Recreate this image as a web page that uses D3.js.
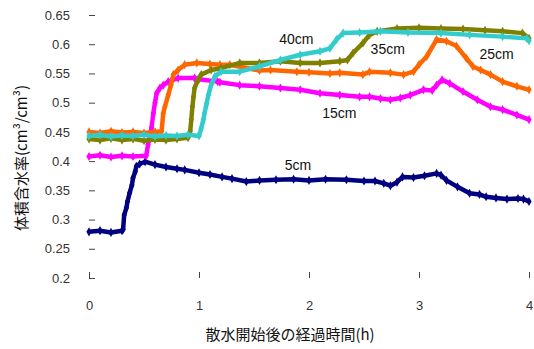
<!DOCTYPE html>
<html><head><meta charset="utf-8">
<script src="https://cdn.jsdelivr.net/npm/d3@7"></script>
<style>body{margin:0;background:#fff}svg{display:block}</style>
</head><body>
<svg id="c" width="534" height="349"></svg>
<script>
// Data: [time (h), volumetric water content]
const s5 = [[0,0.279],[0.1,0.281],[0.2,0.278],[0.3,0.281],[0.31,0.283],[0.32,0.308],[0.34,0.320],[0.35,0.331],[0.37,0.346],[0.39,0.359],[0.40,0.371],[0.42,0.382],[0.43,0.391],[0.46,0.395],[0.51,0.399],[0.6,0.394],[0.7,0.390],[0.8,0.387],[0.87,0.385],[1.0,0.380],[1.1,0.377],[1.21,0.373],[1.3,0.370],[1.43,0.365],[1.55,0.367],[1.7,0.368],[1.86,0.369],[2.0,0.367],[2.15,0.369],[2.34,0.368],[2.5,0.366],[2.6,0.366],[2.68,0.362],[2.74,0.358],[2.8,0.364],[2.85,0.373],[2.95,0.372],[3.05,0.375],[3.16,0.379],[3.2,0.376],[3.25,0.367],[3.35,0.356],[3.46,0.345],[3.55,0.343],[3.61,0.339],[3.7,0.337],[3.8,0.335],[3.9,0.336],[3.95,0.335],[4.0,0.331]];
const s15 = [[0,0.408],[0.1,0.410],[0.2,0.407],[0.3,0.409],[0.4,0.408],[0.52,0.409],[0.537,0.428],[0.568,0.457],[0.585,0.482],[0.60,0.500],[0.615,0.516],[0.645,0.525],[0.675,0.530],[0.72,0.536],[0.81,0.542],[0.96,0.542],[1.0,0.540],[1.17,0.536],[1.19,0.535],[1.37,0.530],[1.55,0.528],[1.74,0.525],[1.92,0.522],[2.1,0.516],[2.28,0.513],[2.46,0.510],[2.55,0.510],[2.65,0.507],[2.74,0.505],[2.83,0.508],[2.92,0.513],[3.04,0.522],[3.12,0.521],[3.16,0.530],[3.21,0.539],[3.28,0.533],[3.40,0.519],[3.53,0.505],[3.65,0.493],[3.76,0.488],[3.89,0.479],[4.0,0.471]];
const s25 = [[0,0.450],[0.1,0.448],[0.2,0.451],[0.3,0.449],[0.4,0.450],[0.5,0.448],[0.6,0.450],[0.66,0.451],[0.675,0.482],[0.69,0.493],[0.72,0.513],[0.745,0.530],[0.767,0.548],[0.81,0.556],[0.87,0.565],[0.98,0.568],[1.1,0.566],[1.19,0.565],[1.28,0.565],[1.55,0.555],[1.65,0.556],[1.89,0.553],[2.0,0.552],[2.19,0.550],[2.28,0.551],[2.49,0.548],[2.55,0.553],[2.74,0.551],[2.86,0.548],[2.95,0.553],[3.0,0.565],[3.07,0.579],[3.16,0.608],[3.25,0.605],[3.34,0.597],[3.43,0.576],[3.49,0.562],[3.56,0.556],[3.65,0.548],[3.76,0.536],[3.89,0.528],[4.0,0.522]];
const s35 = [[0,0.438],[0.1,0.436],[0.2,0.439],[0.3,0.436],[0.4,0.438],[0.5,0.435],[0.6,0.437],[0.7,0.436],[0.8,0.438],[0.9,0.440],[0.92,0.451],[0.93,0.471],[0.94,0.493],[0.95,0.510],[0.96,0.525],[0.99,0.539],[1.02,0.548],[1.11,0.556],[1.2,0.559],[1.37,0.568],[1.55,0.568],[1.74,0.571],[1.92,0.568],[2.1,0.568],[2.28,0.571],[2.35,0.573],[2.40,0.585],[2.49,0.602],[2.55,0.616],[2.62,0.622],[2.8,0.627],[3.0,0.628],[3.2,0.627],[3.4,0.626],[3.6,0.624],[3.76,0.622],[3.94,0.619],[4.0,0.610]];
const s40 = [[0,0.443],[0.1,0.445],[0.2,0.442],[0.3,0.444],[0.4,0.443],[0.5,0.445],[0.6,0.442],[0.7,0.444],[0.8,0.443],[0.9,0.445],[1.0,0.443],[1.02,0.456],[1.04,0.471],[1.05,0.482],[1.07,0.499],[1.085,0.513],[1.11,0.530],[1.145,0.545],[1.2,0.553],[1.37,0.553],[1.55,0.562],[1.74,0.573],[1.92,0.582],[2.1,0.588],[2.19,0.593],[2.25,0.608],[2.31,0.619],[2.46,0.620],[2.65,0.622],[2.9,0.620],[3.2,0.619],[3.46,0.616],[3.76,0.613],[3.98,0.610],[4.0,0.606]];

const seriesNames = ["5cm","15cm","25cm","35cm","40cm"];
const seriesData = [s5, s15, s25, s35, s40];
const seriesColors = ["#000080","#FF00FF","#FF6600","#808000","#33CCCC"];
const xTicks = [0,1,2,3,4];
const yTicks = [0.2,0.25,0.3,0.35,0.4,0.45,0.5,0.55,0.6,0.65];
const yTickLabels = ["0.2","0.25","0.3","0.35","0.4","0.45","0.5","0.55","0.6","0.65"];
const xTitle = "散水開始後の経過時間(h)";
const yTitle = "体積含水率(cm³/cm³)";
// label anchor points [time, value]
const labelPos = [[1.78,0.385],[2.12,0.474],[3.55,0.574],[2.56,0.583],[1.73,0.600]];

const svg = d3.select("#c");
const x = d3.scaleLinear().domain([0,4]).range([89,529]);
const y = d3.scaleLinear().domain([0.2,0.65]).range([278,15]);
const font = "'Liberation Sans', Arial, sans-serif";

const ya = svg.append("g").attr("transform","translate(90,0)")
  .call(d3.axisLeft(y).tickValues(yTicks).tickFormat((d,i)=>yTickLabels[i]).tickSizeInner(-6).tickSizeOuter(0).tickPadding(20));
ya.select(".domain").remove();
ya.selectAll(".tick line").attr("stroke","#444").attr("transform","translate(-1,0)");
ya.selectAll("text").attr("font-family",font).attr("font-size",13).attr("fill","#333");

const xa = svg.append("g").attr("transform","translate(0,278)")
  .call(d3.axisBottom(x).tickValues(xTicks).tickFormat(d3.format("d")).tickSizeInner(-6).tickSizeOuter(0).tickPadding(23));
xa.select(".domain").remove();
xa.selectAll(".tick line").attr("stroke","#444");
xa.selectAll("text").attr("font-family",font).attr("font-size",13).attr("fill","#333");

const line = d3.line().x(d=>x(d[0])).y(d=>y(d[1]));
const diamond = d3.symbol().type(d3.symbolDiamond).size(24);
seriesData.forEach((data,i)=>{
  const g = svg.append("g");
  g.append("path").datum(data).attr("d",line).attr("fill","none")
    .attr("stroke",seriesColors[i]).attr("stroke-width",4.5).attr("stroke-linejoin","round");
  g.selectAll("path.m").data(data).enter().append("path").attr("class","m")
    .attr("d",diamond).attr("fill",seriesColors[i])
    .attr("transform",d=>`translate(${x(d[0])},${y(d[1])})`);
});

svg.selectAll("text.lab").data(seriesNames).enter().append("text").attr("class","lab")
  .attr("x",(d,i)=>x(labelPos[i][0])).attr("y",(d,i)=>y(labelPos[i][1]))
  .attr("font-family",font).attr("font-size",14).attr("fill","#111").text(d=>d);

svg.append("text").attr("x",290).attr("y",340).attr("text-anchor","middle")
  .attr("font-family","'Noto Sans CJK JP', sans-serif").attr("font-size",15).attr("fill","#111").text(xTitle);
svg.append("text").attr("transform","translate(27,158) rotate(-90)").attr("text-anchor","middle")
  .attr("font-family","'Noto Sans CJK JP', sans-serif").attr("font-size",15).attr("fill","#111").text(yTitle);
</script>
</body></html>
